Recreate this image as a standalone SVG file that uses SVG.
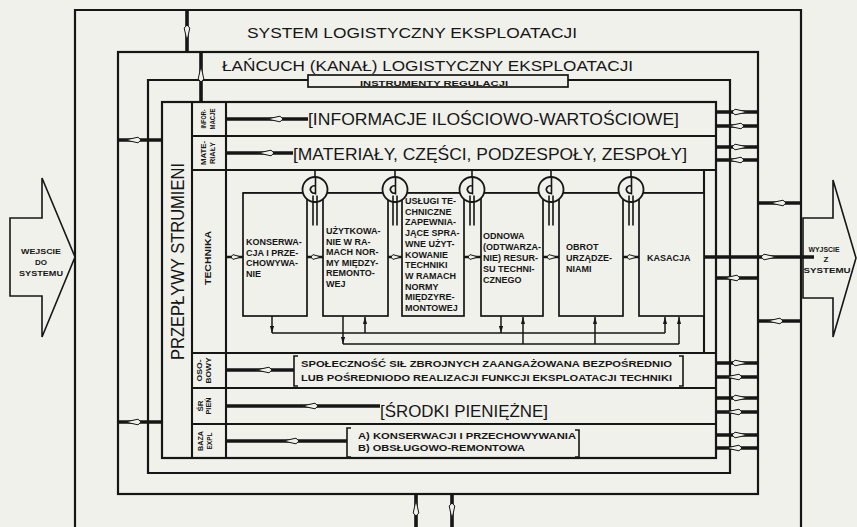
<svg xmlns="http://www.w3.org/2000/svg" width="857" height="527" viewBox="0 0 857 527">
<defs>
<style>
.fr{fill:none;stroke:#161616;stroke-width:2.2}
.bx{fill:#f1f1ec;stroke:#161616;stroke-width:1.7}
.ln{fill:none;stroke:#161616;stroke-width:2.1}
.tk{fill:none;stroke:#161616;stroke-width:3.6}
.md{fill:none;stroke:#161616;stroke-width:2.4}
.bus{fill:none;stroke:#161616;stroke-width:1.5}
.vl{fill:none;stroke:#161616;stroke-width:1.6}
text{font-family:"Liberation Sans",Arial,Helvetica,sans-serif;fill:#161616}
.hd{font-size:15.5px}
.big{font-size:16.5px}
.bt{font-size:9px;font-weight:bold}
.lb{font-size:8px;font-weight:bold}
.rw{font-size:9.5px;font-weight:bold}
.io{font-size:8px;font-weight:bold}
</style>
<path id="sp" d="M-8,0 L5,-2.8 L8,0 L5,2.8 Z" fill="#f1f1ec" stroke="#161616" stroke-width="1"/>
<path id="sps" d="M-5,0 L3,-2.4 L5,0 L3,2.4 Z" fill="#f1f1ec" stroke="#161616" stroke-width="1"/>
<marker id="ah" viewBox="0 0 10 6" refX="10" refY="3" markerWidth="7" markerHeight="4.5" orient="auto" markerUnits="userSpaceOnUse"><path d="M0,0 L10,3 L0,6 Z" fill="#161616"/></marker>
<g id="valve">
<path class="vl" d="M0,-19.5 V-12.5"/>
<circle r="12.5" fill="#f1f1ec" stroke="#161616" stroke-width="1.8"/>
<path class="vl" d="M0.5,-12.5 V5 M1,-3 A3.6,3.6 0 1 0 1,3 M-2,6 V36 M2,6 V36"/>
</g>
</defs>
<rect width="857" height="527" fill="#f1f1ec"/>

<g id="system">
<path class="fr" d="M75,527 V10 H801 V527"/>
<text class="hd" x="247" y="38" textLength="330" lengthAdjust="spacingAndGlyphs">SYSTEM LOGISTYCZNY EKSPLOATACJI</text>
</g>

<g id="input">
<polygon points="10,218 42,218 42,178 75,257 42,337 42,296 10,296" fill="#f1f1ec" stroke="#161616" stroke-width="1.6"/>
<text class="io" x="41" y="254" text-anchor="middle" textLength="40" lengthAdjust="spacingAndGlyphs">WEJSCIE</text>
<text class="io" x="41" y="265" text-anchor="middle">DO</text>
<text class="io" x="41" y="276" text-anchor="middle" textLength="44" lengthAdjust="spacingAndGlyphs">SYSTEMU</text>
</g>

<g id="output">
<polygon points="803,218 833,218 833,180 856,258 833,337 833,298 803,298" fill="#f1f1ec" stroke="#161616" stroke-width="1.6"/>
<text class="io" x="824" y="252" text-anchor="middle" textLength="31" lengthAdjust="spacingAndGlyphs">WYJSCIE</text>
<text class="io" x="826" y="262" text-anchor="middle">Z</text>
<text class="io" x="827" y="273" text-anchor="middle" textLength="47" lengthAdjust="spacingAndGlyphs">SYSTEMU</text>
</g>

<g id="chain">
<rect class="fr" x="118" y="52" width="640" height="442"/>
<text class="hd" x="222" y="71" textLength="411" lengthAdjust="spacingAndGlyphs">ŁAŃCUCH (KANAŁ) LOGISTYCZNY EKSPLOATACJI</text>
</g>

<g id="instruments">
<path class="fr" d="M308,80 H148 V473 H730 V80 H568"/>
<rect class="bx" x="308" y="75" width="260" height="12"/>
<text x="434" y="85.5" text-anchor="middle" font-size="8" font-weight="bold" textLength="148" lengthAdjust="spacingAndGlyphs">INSTRUMENTY REGULACJI</text>
</g>

<g id="flows">
<rect class="fr" x="162" y="102" width="554" height="356"/>
<path class="ln" d="M192,102 V458 M226,102 V458" stroke-width="2.6"/>
<path class="ln" d="M192,136 H716 M192,170 H716 M192,353 H716 M192,388 H716 M192,424 H716"/>
<text transform="translate(183.5,261.5) rotate(-90)" text-anchor="middle" font-size="17.5" textLength="197" lengthAdjust="spacingAndGlyphs">PRZEPŁYWY STRUMIENI</text>
</g>

<g id="row-informacje">
<text class="lb" transform="translate(206,119) rotate(-90)" text-anchor="middle" textLength="19" lengthAdjust="spacingAndGlyphs">INFOR-</text>
<text class="lb" transform="translate(214.5,119) rotate(-90)" text-anchor="middle" textLength="21" lengthAdjust="spacingAndGlyphs">MACJE</text>
<text class="big" x="308" y="124.5" textLength="371" lengthAdjust="spacingAndGlyphs">[INFORMACJE ILOŚCIOWO-WARTOŚCIOWE]</text>
</g>

<g id="row-materialy">
<text class="lb" transform="translate(206,153) rotate(-90)" text-anchor="middle" textLength="24" lengthAdjust="spacingAndGlyphs">MATE-</text>
<text class="lb" transform="translate(214.5,153) rotate(-90)" text-anchor="middle" textLength="22" lengthAdjust="spacingAndGlyphs">RIAŁY</text>
<text class="big" x="293" y="159.5" textLength="394" lengthAdjust="spacingAndGlyphs">[MATERIAŁY, CZĘŚCI, PODZESPOŁY, ZESPOŁY]</text>
</g>

<g id="row-technika">
<text transform="translate(211,258) rotate(-90)" text-anchor="middle" font-size="9" font-weight="bold" textLength="54" lengthAdjust="spacingAndGlyphs">TECHNIKA</text>
<path class="ln" d="M243,193 H704 M704,170 V353" stroke-width="1.8"/>
</g>

<g id="box-konserwacja">
<rect class="bx" x="243" y="193" width="64" height="123"/>
<text class="bt" x="246"><tspan x="246" y="245">KONSERWA-</tspan><tspan x="246" y="255.5">CJA I PRZE-</tspan><tspan x="246" y="266">CHOWYWA-</tspan><tspan x="246" y="276.5">NIE</tspan></text>
</g>
<g id="box-uzytkowanie">
<rect class="bx" x="323" y="193" width="65" height="123"/>
<text class="bt"><tspan x="326" y="234">UŻYTKOWA-</tspan><tspan x="326" y="244.5">NIE W RA-</tspan><tspan x="326" y="255">MACH NOR-</tspan><tspan x="326" y="265.5">MY MIĘDZY-</tspan><tspan x="326" y="276">REMONTO-</tspan><tspan x="326" y="286.5">WEJ</tspan></text>
</g>
<g id="box-uslugi">
<rect class="bx" x="402" y="193" width="62" height="123"/>
<text class="bt"><tspan x="405" y="204">USŁUGI TE-</tspan><tspan x="405" y="214.7">CHNICZNE</tspan><tspan x="405" y="225.4">ZAPEWNIA-</tspan><tspan x="405" y="236.1">JĄCE SPRA-</tspan><tspan x="405" y="246.8">WNE UŻYT-</tspan><tspan x="405" y="257.5">KOWANIE</tspan><tspan x="405" y="268.2">TECHNIKI</tspan><tspan x="405" y="278.9">W RAMACH</tspan><tspan x="405" y="289.6">NORMY</tspan><tspan x="405" y="300.3">MIĘDZYRE-</tspan><tspan x="405" y="311">MONTOWEJ</tspan></text>
</g>
<g id="box-odnowa">
<rect class="bx" x="481" y="193" width="62" height="123"/>
<text class="bt"><tspan x="483" y="239">ODNOWA</tspan><tspan x="483" y="250">(ODTWARZA-</tspan><tspan x="483" y="261">NIE) RESUR-</tspan><tspan x="483" y="272">SU TECHNI-</tspan><tspan x="483" y="283">CZNEGO</tspan></text>
</g>
<g id="box-obrot">
<rect class="bx" x="559" y="193" width="64" height="123"/>
<text class="bt"><tspan x="566" y="250">OBROT</tspan><tspan x="566" y="261">URZĄDZE-</tspan><tspan x="566" y="272">NIAMI</tspan></text>
</g>
<g id="box-kasacja">
<rect class="bx" x="639" y="193" width="65" height="123"/>
<text class="bt" x="647" y="260.5">KASACJA</text>
</g>

<g id="valves">
<use href="#valve" x="315" y="189.5"/>
<use href="#valve" x="395" y="189.5"/>
<use href="#valve" x="472" y="189.5"/>
<use href="#valve" x="551" y="189.5"/>
<use href="#valve" x="631" y="189.5"/>
</g>

<g id="row-osobowy">
<text class="lb" transform="translate(202,370.5) rotate(-90)" text-anchor="middle" textLength="22" lengthAdjust="spacingAndGlyphs">OSO-</text>
<text class="lb" transform="translate(210.5,370.5) rotate(-90)" text-anchor="middle" textLength="26" lengthAdjust="spacingAndGlyphs">BOWY</text>
<path class="vl" d="M298,356 H294 V386 H298 M679,356 H683 V386 H679" stroke-width="2"/>
<text class="rw" x="301" y="367" textLength="371" lengthAdjust="spacingAndGlyphs">SPOŁECZNOŚĆ SIŁ ZBROJNYCH ZAANGAŻOWANA BEZPOŚREDNIO</text>
<text class="rw" x="301" y="380.5" textLength="371" lengthAdjust="spacingAndGlyphs">LUB POŚREDNIODO REALIZACJI FUNKCJI EKSPLOATACJI TECHNIKI</text>
</g>

<g id="row-srodki">
<text class="lb" transform="translate(202.5,406) rotate(-90)" text-anchor="middle">ŚR</text>
<text class="lb" transform="translate(211,406) rotate(-90)" text-anchor="middle" textLength="17" lengthAdjust="spacingAndGlyphs">PIEŃ</text>
<text class="big" x="380" y="417" textLength="168" lengthAdjust="spacingAndGlyphs">[ŚRODKI PIENIĘŻNE]</text>
</g>

<g id="row-baza">
<text class="lb" transform="translate(203,441) rotate(-90)" text-anchor="middle" textLength="20" lengthAdjust="spacingAndGlyphs">BAZA</text>
<text class="lb" transform="translate(211.5,441) rotate(-90)" text-anchor="middle" textLength="17" lengthAdjust="spacingAndGlyphs">EXPL</text>
<path class="vl" d="M351,428 H347 V457 H351 M575,430 H579 V457 H575" stroke-width="2"/>
<text x="358" y="439" font-size="9" font-weight="bold" textLength="218" lengthAdjust="spacingAndGlyphs">A) KONSERWACJI I PRZECHOWYWANIA</text>
<text x="358" y="450.5" font-size="9" font-weight="bold" textLength="167" lengthAdjust="spacingAndGlyphs">B) OBSŁUGOWO-REMONTOWA</text>
</g>

<g id="connectors">
<path class="tk" d="M118,140 H162 M118,422 H162 M187,10 V52 M201,52 V102 M416,494 V527 M452,494 V527"/>
<use href="#sp" transform="translate(133,140)"/>
<use href="#sp" transform="translate(133,422)"/>
<use href="#sp" transform="translate(187,33) rotate(-90)"/>
<use href="#sp" transform="translate(201,74) rotate(90)"/>
<use href="#sp" transform="translate(416,508) rotate(90)"/>
<use href="#sp" transform="translate(452,511) rotate(-90)"/>

<path class="tk" d="M227,119 H308 M227,153 H293 M227,370 H294 M227,406 H380 M227,441 H347"/>
<use href="#sp" transform="translate(275,119)"/>
<use href="#sp" transform="translate(266,153)"/>
<use href="#sp" transform="translate(264,370)"/>
<use href="#sp" transform="translate(310,406)"/>
<use href="#sp" transform="translate(291,441)"/>

<path class="tk" d="M716,112 H758 M716,126 H758 M716,147 H758 M716,160 H758 M716,278 H758 M716,363 H758 M716,377 H758 M716,398 H758 M716,412 H758 M716,435 H758 M716,448 H758 M758,203 H801 M758,321 H801 M704,257 H814"/>
<use href="#sp" transform="translate(740,112) rotate(180)"/>
<use href="#sp" transform="translate(736,126)"/>
<use href="#sp" transform="translate(740,147) rotate(180)"/>
<use href="#sp" transform="translate(736,160)"/>
<use href="#sp" transform="translate(732,278)"/>
<use href="#sp" transform="translate(740,363) rotate(180)"/>
<use href="#sp" transform="translate(734,377)"/>
<use href="#sp" transform="translate(740,398) rotate(180)"/>
<use href="#sp" transform="translate(734,412)"/>
<use href="#sp" transform="translate(740,435) rotate(180)"/>
<use href="#sp" transform="translate(734,448)"/>
<use href="#sp" transform="translate(778,203)"/>
<use href="#sp" transform="translate(775,321)"/>
<use href="#sp" transform="translate(769,257) rotate(180)"/>

<path class="md" d="M226,257 H243 M307,257 H323 M388,257 H402 M464,257 H481 M543,257 H559 M623,257 H639"/>
<use href="#sps" transform="translate(236,257) rotate(180)"/>
<use href="#sps" transform="translate(316,257) rotate(180)"/>
<use href="#sps" transform="translate(396,257) rotate(180)"/>
<use href="#sps" transform="translate(473,257) rotate(180)"/>
<use href="#sps" transform="translate(552,257) rotate(180)"/>
<use href="#sps" transform="translate(632,257) rotate(180)"/>

<path class="bus" d="M272,333 H665 M343,344 H679"/>
<path class="bus" marker-end="url(#ah)" d="M272,316 V333"/>
<path class="bus" marker-end="url(#ah)" d="M343,316 V344"/>
<path class="bus" marker-end="url(#ah)" d="M365,333 V317"/>
<path class="bus" marker-end="url(#ah)" d="M501,316 V333"/>
<path class="bus" marker-end="url(#ah)" d="M523,344 V317"/>
<path class="bus" marker-end="url(#ah)" d="M595,344 V317"/>
<path class="bus" marker-end="url(#ah)" d="M665,333 V317"/>
<path class="bus" marker-end="url(#ah)" d="M679,344 V317"/>
</g>
</svg>
